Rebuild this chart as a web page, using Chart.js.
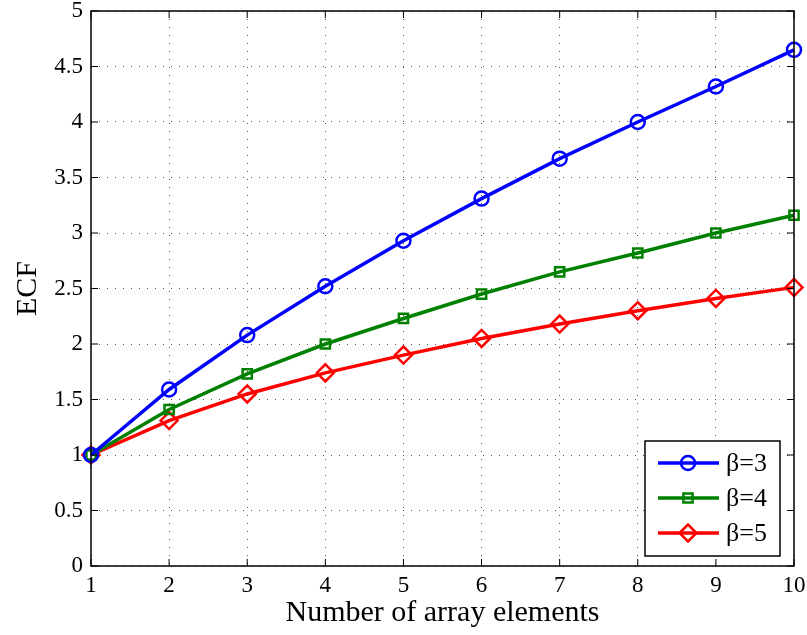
<!DOCTYPE html>
<html>
<head>
<meta charset="utf-8">
<script src="https://cdn.jsdelivr.net/npm/chart.js@4"></script>
<style>
  html, body { margin: 0; padding: 0; background: #fff; }
  #wrap { width: 807px; height: 635px; }
</style>
</head>
<body>
<div id="wrap"><canvas id="ecfChart" width="807" height="635"></canvas></div>
<script>
const elements = [1, 2, 3, 4, 5, 6, 7, 8, 9, 10];
const beta3 = [1.00, 1.59, 2.08, 2.52, 2.93, 3.31, 3.67, 4.00, 4.32, 4.65];
const beta4 = [1.00, 1.41, 1.73, 2.00, 2.23, 2.45, 2.65, 2.82, 3.00, 3.16];
const beta5 = [1.00, 1.31, 1.55, 1.74, 1.90, 2.05, 2.18, 2.30, 2.41, 2.51];
const seriesLabels = ['β=3', 'β=4', 'β=5'];

const serif = '"Liberation Serif", "Times New Roman", serif';

function toPoints(vals) {
  return vals.map((v, i) => ({ x: elements[i], y: v }));
}

// box, inward ticks on all four sides, legend inside the plot
const matlabAxes = {
  id: 'matlabAxes',
  afterDatasetsDraw(chart) {
    const { ctx, chartArea: a, scales } = chart;
    ctx.save();
    ctx.strokeStyle = '#000';
    ctx.lineWidth = 1.5;
    ctx.strokeRect(a.left, a.top, a.right - a.left, a.bottom - a.top);
    ctx.lineWidth = 1;
    ctx.beginPath();
    const t = 7;
    scales.x.ticks.forEach(tk => {
      const px = scales.x.getPixelForValue(tk.value);
      ctx.moveTo(px, a.bottom); ctx.lineTo(px, a.bottom - t);
      ctx.moveTo(px, a.top); ctx.lineTo(px, a.top + t);
    });
    scales.y.ticks.forEach(tk => {
      const py = scales.y.getPixelForValue(tk.value);
      ctx.moveTo(a.left, py); ctx.lineTo(a.left + t, py);
      ctx.moveTo(a.right, py); ctx.lineTo(a.right - t, py);
    });
    ctx.stroke();

    // legend
    const bx = 645, by = 441, bw = 135, bh = 115;
    ctx.fillStyle = '#fff';
    ctx.fillRect(bx, by, bw, bh);
    ctx.lineWidth = 1.5;
    ctx.strokeStyle = '#000';
    ctx.strokeRect(bx, by, bw, bh);
    const rowY = [463, 498, 533];
    chart.data.datasets.forEach((ds, i) => {
      const y = rowY[i];
      ctx.strokeStyle = ds.borderColor;
      ctx.lineWidth = 3.5;
      ctx.beginPath();
      ctx.moveTo(658, y); ctx.lineTo(719, y);
      ctx.stroke();
      ctx.fillStyle = 'rgba(0,0,0,0)';
      ctx.lineWidth = ds.pointBorderWidth;
      Chart.helpers.drawPoint(ctx, {
        pointStyle: ds.pointStyle,
        radius: ds.pointRadius,
        borderWidth: ds.pointBorderWidth
      }, 688, y);
      ctx.fillStyle = '#000';
      ctx.font = '26px ' + serif;
      ctx.textBaseline = 'middle';
      ctx.textAlign = 'left';
      ctx.fillText(ds.label, 726, y + 1);
    });
    ctx.restore();
  }
};

new Chart(document.getElementById('ecfChart'), {
  type: 'line',
  data: {
    datasets: [
      { label: seriesLabels[0], data: toPoints(beta3), borderColor: '#0000ff',
        pointStyle: 'circle', pointRadius: 7 },
      { label: seriesLabels[1], data: toPoints(beta4), borderColor: '#008000',
        pointStyle: 'rect', pointRadius: 6.5 },
      { label: seriesLabels[2], data: toPoints(beta5), borderColor: '#ff0000',
        pointStyle: 'rectRot', pointRadius: 8.5 }
    ].map(ds => Object.assign(ds, {
      borderWidth: 3.5,
      pointBorderColor: ds.borderColor,
      pointBackgroundColor: 'rgba(0,0,0,0)',
      pointBorderWidth: 2.5,
      tension: 0,
      fill: false,
      clip: false
    }))
  },
  options: {
    responsive: false,
    animation: false,
    layout: { padding: { top: 11, right: 13, left: 0, bottom: 0 } },
    plugins: { legend: { display: false }, tooltip: { enabled: false } },
    scales: {
      x: {
        type: 'linear', min: 1, max: 10,
        afterFit(s) { s.height = 69; s.paddingLeft = 0; s.paddingRight = 0; },
        ticks: { stepSize: 1, color: '#000', padding: 6, font: { family: serif, size: 23 } },
        grid: { color: 'rgba(0,0,0,0.65)', lineWidth: 1, drawTicks: false },
        border: { display: false, dash: [1, 7] },
        title: { display: true, text: 'Number of array elements', color: '#000',
                 padding: { top: 2 }, font: { family: serif, size: 30 } }
      },
      y: {
        min: 0, max: 5,
        afterFit(s) { s.width = 91; s.paddingTop = 0; s.paddingBottom = 0; },
        ticks: { stepSize: 0.5, color: '#000', padding: 8, font: { family: serif, size: 23 },
                 callback: v => String(v) },
        grid: { color: 'rgba(0,0,0,0.65)', lineWidth: 1, drawTicks: false },
        border: { display: false, dash: [1, 7] },
        title: { display: true, text: 'ECF', color: '#000',
                 padding: { top: 10 }, font: { family: serif, size: 30 } }
      }
    }
  },
  plugins: [matlabAxes]
});
</script>
</body>
</html>
